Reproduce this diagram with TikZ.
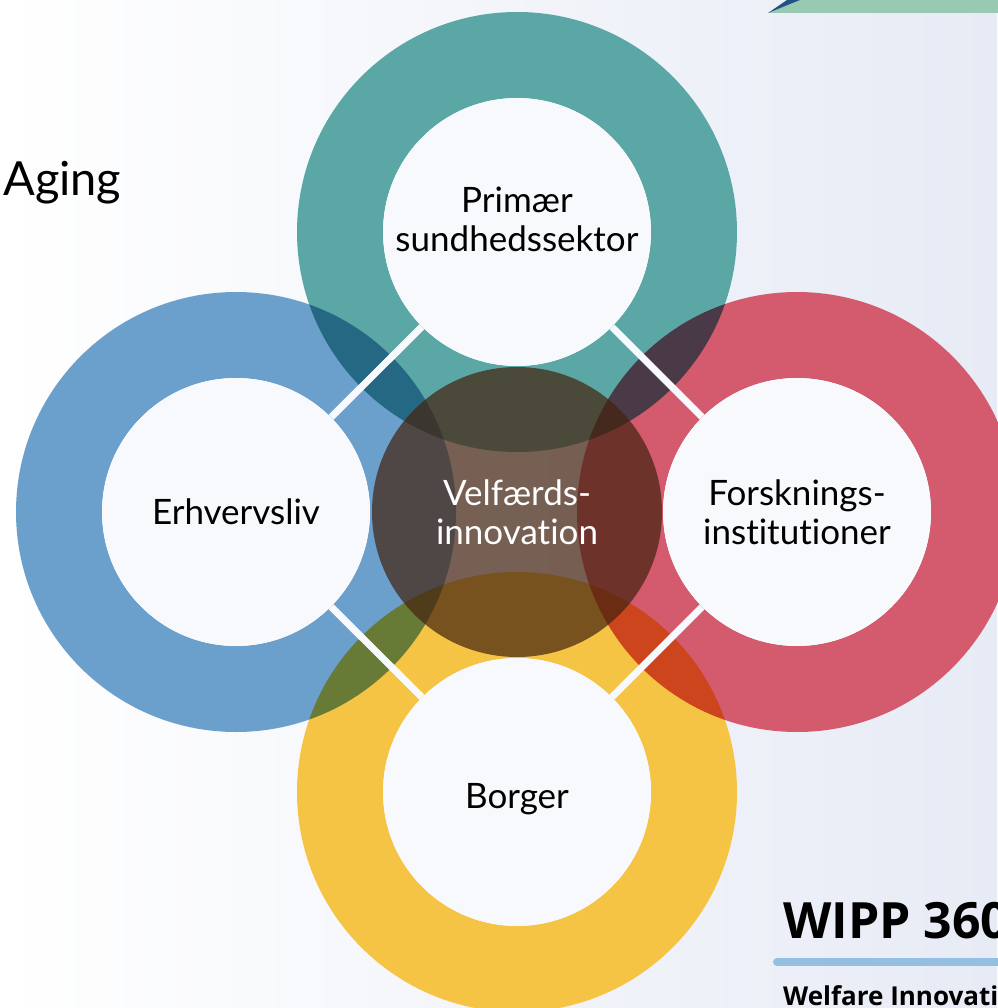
\documentclass[tikz,border=0pt]{standalone}
\usepackage{fontspec}
\setmainfont{Lato}[Ligatures={NoCommon,NoContextual}]
\newfontfamily\wippfont{Open Sans}
\usepackage{tikz}
\usetikzlibrary{positioning}

\definecolor{ringteal}{RGB}{90,167,166}
\definecolor{ringblue}{RGB}{107,160,204}
\definecolor{ringred}{RGB}{212,90,110}
\definecolor{ringyellow}{RGB}{246,196,68}
\definecolor{velfbrown}{RGB}{68,35,15}
\definecolor{bgright}{RGB}{231,235,245}
\definecolor{gapwhite}{RGB}{248,249,252}
\definecolor{bandgreen}{RGB}{151,201,179}
\definecolor{bandblue}{RGB}{31,84,130}
\definecolor{rulecol}{RGB}{148,191,224}

\pgfdeclarelayer{back}
\pgfsetlayers{back,main}

\begin{document}
\begin{tikzpicture}[x=1pt,y=-1pt,on grid,
    ringlbl/.style={circle,inner sep=0pt,minimum size=268pt,align=center,
      font=\fontsize{35}{39}\selectfont},
    hole/.style={ringlbl,fill=gapwhite},
    gap/.style={draw=gapwhite,line width=7pt},
    ringfill/.style={fill=#1,even odd rule}]
    \useasboundingbox (0,0) rectangle (997,1008);
    \clip (0,0) rectangle (997,1008);

    \node[ringlbl,text=white] (velf) at (517,512) {Velfærds-\\innovation};
    \node[hole,text depth=26pt] (prim) [above = 280pt of velf] {Primær\\sundhedssektor};
    \node[hole] (erhv) [left = 281pt of velf] {Erhvervsliv};
    \node[hole] (forsk) [right = 280pt of velf] {Forsknings-\\institutioner};
    \node[hole,text height=40pt] (borger) [below = 280pt of velf] {Borger};

    \node[anchor=base west,inner sep=0pt,font=\fontsize{47}{47}\selectfont] (aging) at (3,196) {Aging};
    \node[anchor=base west,inner sep=0pt,font=\wippfont\bfseries\fontsize{50}{50}\selectfont] (wipp) at (783,938) {WIPP 360};
    \node[anchor=base west,inner sep=0pt,font=\wippfont\bfseries\fontsize{26}{26}\selectfont] (welfare) at (783,1005) {Welfare Innovation};
    \coordinate (rulea) at (777,962);
    \coordinate (ruleb) at (1010,962);

    \begin{pgfonlayer}{back}
    \shade[left color=white,right color=bgright] (0,0) rectangle (997,1008);
    \fill[bandgreen] (768,13) -- (800,0) -- (1000,0) -- (1000,13) -- cycle;
    \fill[bandblue] (768,13) -- (787,0) -- (800,0) -- cycle;
    \draw[rulecol,line width=8pt,line cap=round] (rulea) -- (ruleb);

    % the four rings
    \begin{scope}[blend group=multiply]
        \fill[ringfill=ringteal] (prim.center) circle (220pt) (prim.center) circle (134pt);
        \fill[ringfill=ringblue] (erhv.center) circle (220pt) (erhv.center) circle (134pt);
        \fill[ringfill=ringred] (forsk.center) circle (220pt) (forsk.center) circle (134pt);
        \fill[ringfill=ringyellow] (borger.center) circle (220pt) (borger.center) circle (134pt);
    \end{scope}

    \draw[gap] (erhv) -- (prim);
    \draw[gap] (prim) -- (forsk);
    \draw[gap] (forsk) -- (borger);
    \draw[gap] (borger) -- (erhv);

    \fill[velfbrown,opacity=0.71] (velf.center) circle (145pt);
    \end{pgfonlayer}
\end{tikzpicture}
\end{document}
